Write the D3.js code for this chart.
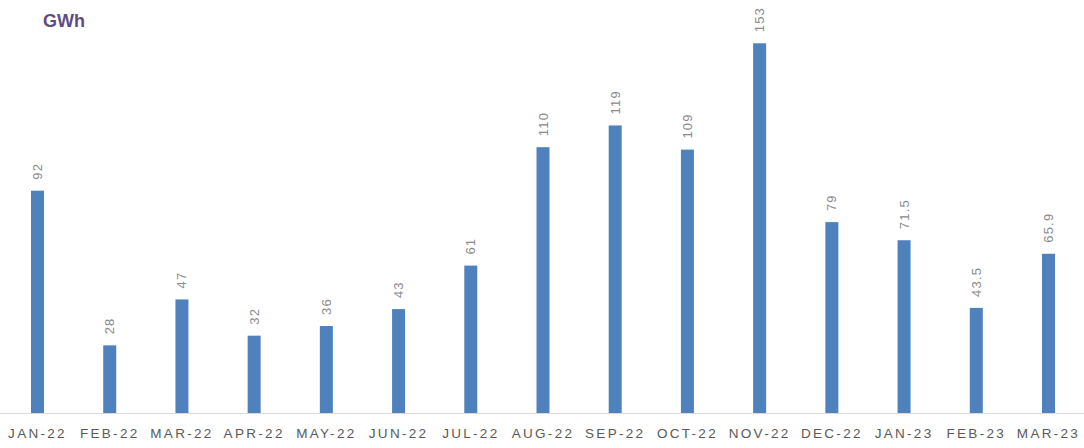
<!DOCTYPE html>
<html>
<head>
<meta charset="utf-8">
<script src="https://cdn.jsdelivr.net/npm/d3@7"></script>
<style>
  body { margin: 0; background: #fff; }
  svg { display: block; font-family: "Liberation Sans", Arial, sans-serif; }
</style>
</head>
<body>
<svg id="chart" width="1084" height="448"></svg>
<script>
// data
const months = ["JAN-22","FEB-22","MAR-22","APR-22","MAY-22","JUN-22","JUL-22","AUG-22","SEP-22","OCT-22","NOV-22","DEC-22","JAN-23","FEB-23","MAR-23"];
const values = [92, 28, 47, 32, 36, 43, 61, 110, 119, 109, 153, 79, 71.5, 43.5, 65.9];
const unitLabel = "GWh";

let width = 1084;
let height = 448;
let baseY = 413;

let svg = d3.select("#chart");

//scales
let xScale = d3.scaleBand()
  .domain(months)
  .range([1.4, 1084.6])
  .paddingInner(0.82)
  .paddingOuter(0.41);

let yScale = d3.scaleLinear()
  .domain([0, 153])
  .range([baseY, 43.3]);

//bars
svg.append("g")
  .selectAll("rect")
  .data(values)
  .enter()
  .append("rect")
  .attr("x", (d, i) => xScale(months[i]))
  .attr("y", d => yScale(d))
  .attr("width", xScale.bandwidth())
  .attr("height", d => baseY - yScale(d))
  .attr("fill", "#4f81bd");

//value labels, rotated
svg.append("g")
  .selectAll("text")
  .data(values)
  .enter()
  .append("text")
  .attr("transform", (d, i) => `translate(${xScale(months[i]) + xScale.bandwidth() / 2 + 4.5},${yScale(d) - 11}) rotate(-90)`)
  .attr("font-size", 13)
  .attr("letter-spacing", "1.2px")
  .attr("fill", "#8a8a8a")
  .text(d => d);

//x axis
let xAxis = svg.append("g")
  .attr("transform", `translate(0,${baseY})`)
  .call(d3.axisBottom(xScale).tickSize(0).tickPadding(15));

xAxis.select(".domain")
  .attr("d", `M0,0.5H${width}`)
  .attr("stroke", "#d9d9d9");

xAxis.selectAll("text")
  .attr("font-size", 13.5)
  .attr("font-family", "\"Liberation Sans\", Arial, sans-serif")
  .attr("letter-spacing", "2.3px")
  .attr("fill", "#595959");

//unit title
svg.append("text")
  .attr("x", 43)
  .attr("y", 27)
  .attr("font-size", 18)
  .attr("font-weight", "bold")
  .attr("fill", "#5f4a82")
  .text(unitLabel);
</script>
</body>
</html>
